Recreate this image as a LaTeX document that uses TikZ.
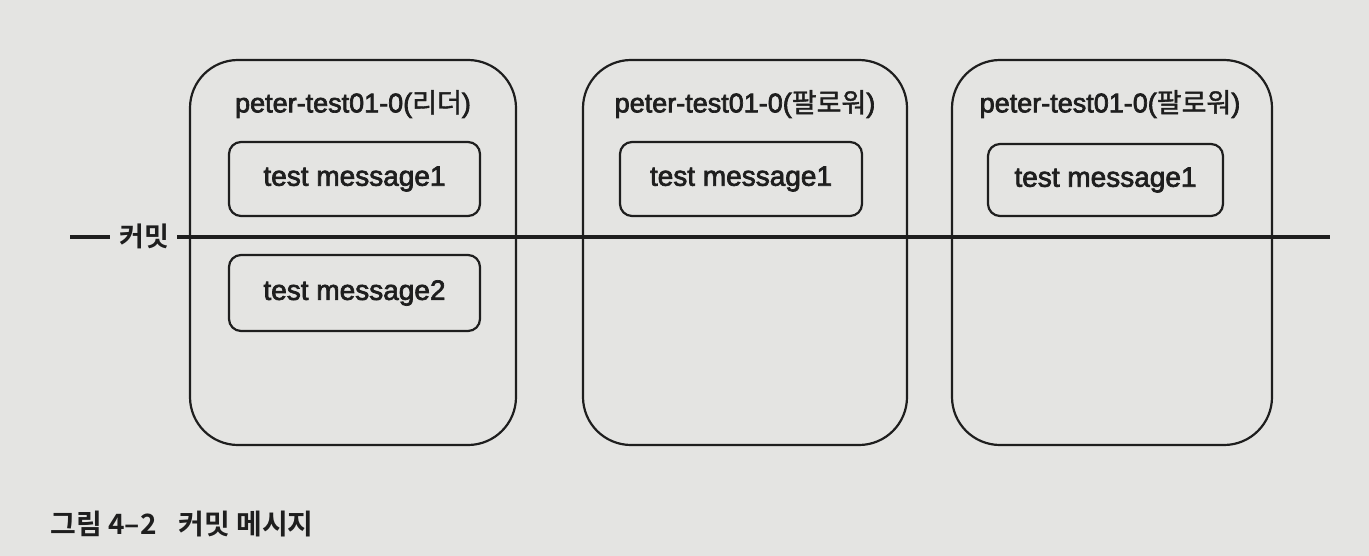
\documentclass[tikz,border=0pt]{standalone}
\usepackage{fontspec}
\setmainfont{Liberation Sans}
\newfontfamily\med{Liberation Sans}[FakeBold=2.5]
\newfontfamily\kr{Noto Sans CJK KR}[FakeBold=1.5]
\newfontfamily\krb{Noto Sans CJK KR}[BoldFont={* Bold}]
\definecolor{page}{RGB}{228,228,226}
\definecolor{ink}{RGB}{30,30,30}
\tikzset{
  outerbox/.style={draw=ink, line width=1.1pt, rounded corners=24pt, minimum height=192.5pt, inner sep=0pt},
  msgbox/.style={draw=ink, line width=1.1pt, rounded corners=6pt, minimum height=37pt, inner sep=0pt, font=\med\fontsize{14}{16}\selectfont, text=ink},
  lbl/.style={font=\med\fontsize{13.5}{16}\selectfont, text=ink, inner sep=0pt},
  commitline/.style={draw=ink, line width=2pt},
}
\begin{document}
\begin{tikzpicture}[x=0.5pt,y=-0.5pt]
\fill[page] (0,0) rectangle (1369,556);
\useasboundingbox (0,0) rectangle (1369,556);
% outer boxes
\node[outerbox, minimum width=163pt] (b1) at (353,252.5) {};
\node[outerbox, minimum width=162pt] (b2) at (745,252.5) {};
\node[outerbox, minimum width=160pt] (b3) at (1112,252.5) {};
% labels
\node[lbl] (l1) at (353,104) {peter-test01-0({\kr 리더})};
\node[lbl] (l2) at (745,104) {peter-test01-0({\kr 팔로워})};
\node[lbl] (l3) at (1110,104) {peter-test01-0({\kr 팔로워})};
% messages
\node[msgbox, minimum width=125.5pt] (m11) at (354.5,179) {test message1};
\node[msgbox, minimum width=125.5pt, minimum height=38pt] (m12) at (354.5,293) {test message2};
\node[msgbox, minimum width=121pt] (m21) at (741,179) {test message1};
\node[msgbox, minimum width=117.5pt, minimum height=36pt] (m31) at (1105.5,180) {test message1};
% commit line
\coordinate (d0) at (70,237);
\coordinate (d1) at (110,237);
\coordinate (c0) at (177,237);
\coordinate (c1) at (1330,237);
\draw[commitline] (d0) -- (d1);
\node[font=\krb\bfseries\fontsize{13.5}{15}\selectfont, text=ink, inner sep=0pt] (commit) at (144,236) {커밋};
\draw[commitline] (c0) -- (c1);
% caption
\node[anchor=west, font=\krb\bfseries\fontsize{14}{16}\selectfont, text=ink, inner sep=0pt] (cap) at (50,524) {그림 4–2\hspace{11pt}커밋 메시지};
\end{tikzpicture}
\end{document}
